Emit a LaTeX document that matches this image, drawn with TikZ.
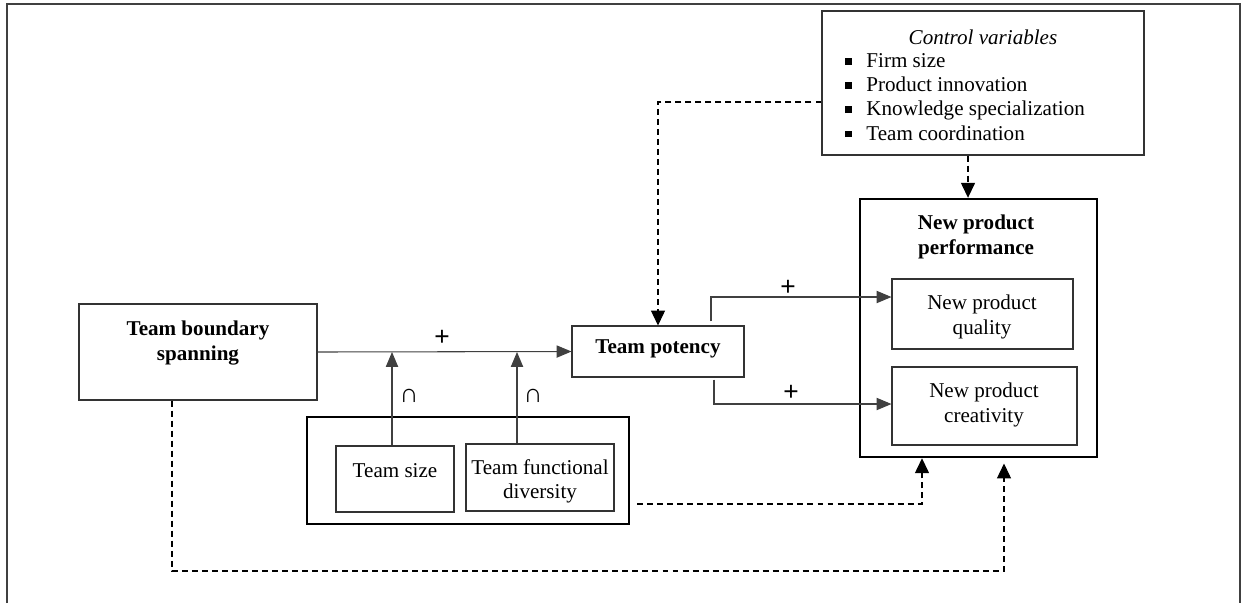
\documentclass[tikz,border=0pt]{standalone}
\usepackage{fontspec}
\setmainfont{Liberation Serif}
\newfontfamily\signfont{Liberation Sans}
\usetikzlibrary{arrows.meta,fit,calc}

\newcommand{\sqbullet}{\raisebox{1.6pt}{\rule{3.8pt}{3.8pt}}\hspace{8.2pt}}

\begin{document}
\begin{tikzpicture}[x=0.02cm, y=-0.02cm, line cap=butt, line join=miter,
		font=\fontsize{12}{13.8}\selectfont,
		box/.style={draw=black!80, line width=0.6pt, inner sep=0pt},
		bigbox/.style={draw=black, line width=1.4pt, inner sep=0pt},
		lbl/.style={align=center, inner sep=0pt},
		boldlbl/.style={lbl, font=\bfseries\fontsize{12}{13.8}\selectfont},
		sign/.style={inner sep=0pt, font=\signfont\fontsize{15}{16}\selectfont},
		arrow/.style={draw=black!75, line width=0.6pt, -{Triangle[length=8.5pt,width=7pt]}},
		dasharrow/.style={draw=black, line width=0.6pt, dash pattern=on 3.4pt off 2.3pt,
			-{Triangle[length=8.5pt,width=8pt]}}]
		
		% Frame (open at the bottom)
		\useasboundingbox (0,0) rectangle (1243,603);
		\draw[black!75, line width=1pt] (7,603) -- (7,4) -- (1240,4) -- (1240,603);
		
		% Control variables
		\node[box, fit={(822,11) (1144,155)}] (ctrl) {};
		\node[lbl] (ctrltitle) at (983,37) {\itshape Control variables};
		\node[lbl, align=left, anchor=north west] (ctrllist) at (845,53)
		{\sqbullet Firm size\\
			\sqbullet Product innovation\\
			\sqbullet Knowledge specialization\\
			\sqbullet Team coordination};
		
		% New product performance
		\node[bigbox, fit={(860,199) (1097,457)}] (npp) {};
		\node[boldlbl] (npptxt) at (976,237) {New product\\performance};
		\node[box, fit={(892,279) (1073,349)}] (qual) {};
		\node[lbl] (qualtxt) at (982,317) {New product\\quality};
		\node[box, fit={(892,367) (1077,445)}] (crea) {};
		\node[lbl] (creatxt) at (984,405) {New product\\creativity};
		
		% Team boundary spanning and team potency
		\node[box, fit={(79,304) (317,400)}] (tbs) {};
		\node[boldlbl] (tbstxt) at (198,343) {Team boundary\\spanning};
		\node[box, fit={(572,326) (744,377)}] (pot) {};
		\node[boldlbl] (pottxt) at (658,349) {Team potency};
		
		% Moderators
		\node[bigbox, fit={(307,417) (629,524)}] (mod) {};
		\node[box, fit={(336,446) (454,512)}] (size) {};
		\node[lbl] (sizetxt) at (395,471) {Team size};
		\node[box, fit={(466,444) (614,511)}] (div) {};
		\node[lbl] (divtxt) at (540,481) {Team functional\\diversity};
		
		% Main path
		\draw[arrow] (tbs.east) -- (pot.west);
		\node[sign] (p1) at (442,338) {+};
		\coordinate (m1) at (392,0 |- tbs.east);
		\coordinate (m2) at (517,0 |- tbs.east);
		\draw[arrow] (size.north -| m1) -- (m1);
		\draw[arrow] (div.north -| m2) -- (m2);
		\node[sign] (c1) at (409,396) {∩};
		\node[sign] (c2) at (533,396) {∩};
		
		% Potency to outcomes
		\draw[arrow] ($(pot.north -| 711,0)+(0,-4)$) |- (qual.west |- 0,297);
		\node[sign] (p2) at (788,288) {+};
		\draw[arrow] ($(pot.south -| 714,0)+(0,2)$) |- (crea.west |- 0,404);
		\node[sign] (p3) at (791,393) {+};
		
		% Dashed control paths
		\draw[dasharrow] (ctrl.west |- 0,102) -| (pot.north);
		\draw[dasharrow] (ctrl.south -| 968,0) -- (npp.north -| 968,0);
		\draw[dasharrow] ($(mod.east |- 0,504)+(7,0)$) -| (npp.south -| 922,0);
		\draw[dasharrow, shorten >=3pt] (tbs.south -| 172,0) |- (1004,571) -| (npp.south -| 1004,0);
		
	\end{tikzpicture}
\end{document}
